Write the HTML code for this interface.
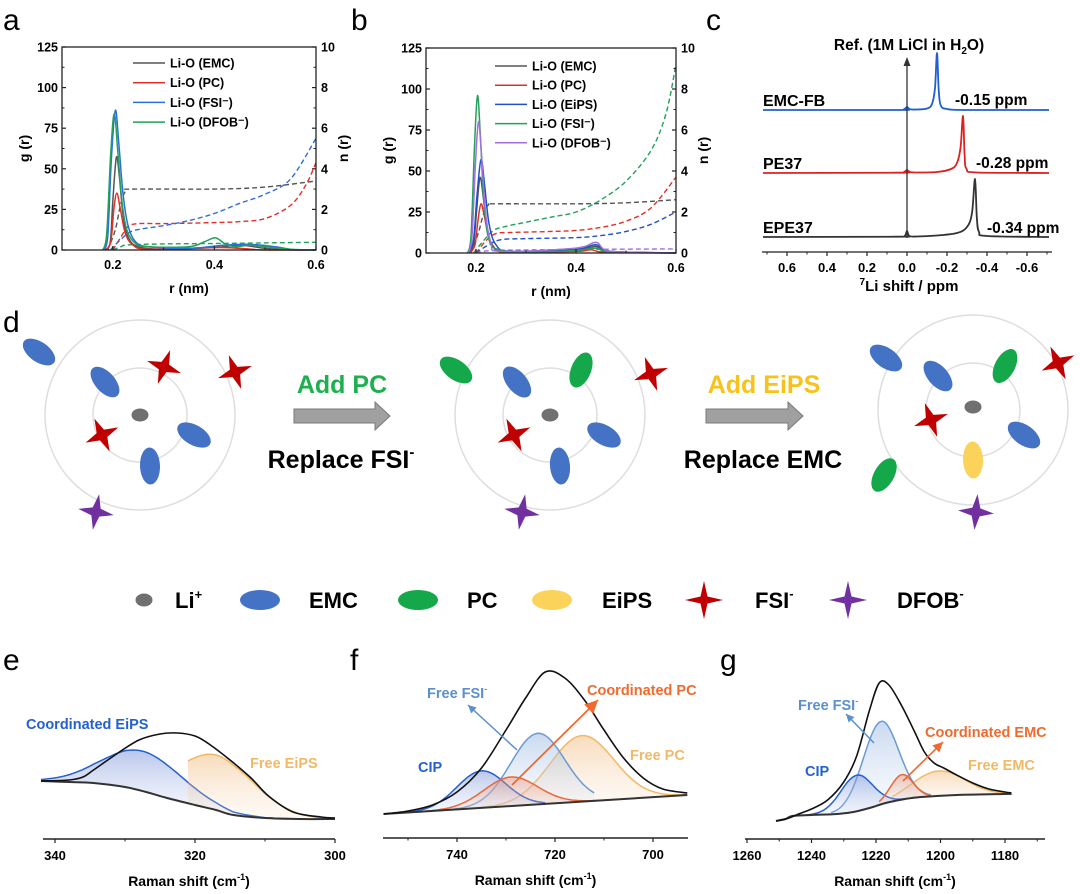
<!DOCTYPE html>
<html><head><meta charset="utf-8">
<style>
html,body{margin:0;padding:0;background:#fff;}
svg{display:block;font-family:"Liberation Sans",Arial,sans-serif;}
</style></head>
<body>
<svg id="fig" width="1080" height="894" viewBox="0 0 1080 894" xmlns="http://www.w3.org/2000/svg">
<defs>
<linearGradient id="gBlue" x1="0" y1="0" x2="0" y2="1"><stop offset="0" stop-color="#7f98dc" stop-opacity="0.55"/><stop offset="1" stop-color="#c9d4f2" stop-opacity="0.15"/></linearGradient>
<linearGradient id="gLBlue" x1="0" y1="0" x2="0" y2="1"><stop offset="0" stop-color="#9dbbe3" stop-opacity="0.55"/><stop offset="1" stop-color="#d6e3f4" stop-opacity="0.15"/></linearGradient>
<linearGradient id="gOrange" x1="0" y1="0" x2="0" y2="1"><stop offset="0" stop-color="#f0b06a" stop-opacity="0.45"/><stop offset="1" stop-color="#f7dcc0" stop-opacity="0.15"/></linearGradient>
<linearGradient id="gRed" x1="0" y1="0" x2="0" y2="1"><stop offset="0" stop-color="#eb8a66" stop-opacity="0.45"/><stop offset="1" stop-color="#f7d2c4" stop-opacity="0.15"/></linearGradient>
</defs>

<text x="3" y="30" font-size="30">a</text>
<text x="351" y="30" font-size="30">b</text>
<text x="706" y="30" font-size="30">c</text>
<text x="3" y="332" font-size="30">d</text>
<text x="3" y="670" font-size="30">e</text>
<text x="350" y="670" font-size="30">f</text>
<text x="720" y="670" font-size="30">g</text>

<g id="pa"></g>
<g id="pb"></g>
<g id="pc"></g>
<g id="pd"></g>
<g id="pe"></g>
<g id="pf"></g>
<g id="pg"></g>
</svg>

<script>
// ---------- Panel a data ----------
const aLegend = ["Li-O (EMC)", "Li-O (PC)", "Li-O (FSI⁻)", "Li-O (DFOB⁻)"];
const aG_EMC = [[0.185,0],[0.195,5],[0.2,30],[0.207,57],[0.213,45],[0.22,22],[0.23,8],[0.25,2],[0.3,0.5],[0.4,1.5],[0.45,3],[0.5,1],[0.55,0],[0.6,0]];
const aG_PC = [[0.185,0],[0.196,5],[0.202,25],[0.208,35],[0.215,25],[0.225,10],[0.24,3],[0.27,0.5],[0.4,1.5],[0.45,1],[0.5,0],[0.6,0]];
const aG_FSI = [[0.182,0],[0.19,8],[0.197,55],[0.205,86],[0.212,65],[0.22,35],[0.23,15],[0.245,5],[0.27,2],[0.35,1],[0.42,3],[0.47,3.5],[0.52,2],[0.56,0],[0.6,0]];
const aG_DFOB = [[0.18,0],[0.188,10],[0.196,60],[0.203,84],[0.21,60],[0.218,30],[0.228,12],[0.245,4],[0.27,2],[0.35,2],[0.38,5],[0.402,7.5],[0.42,4],[0.44,2],[0.47,3],[0.5,2],[0.55,0.5],[0.6,0]];
const aN_EMC = [[0.19,0],[0.205,1],[0.215,2.2],[0.225,2.9],[0.24,3.0],[0.4,3.0],[0.5,3.1],[0.6,3.4]];
const aN_PC = [[0.2,0],[0.215,0.6],[0.23,1.15],[0.25,1.3],[0.3,1.3],[0.4,1.35],[0.45,1.4],[0.5,1.55],[0.55,2.2],[0.58,3.2],[0.6,4.3]];
const aN_FSI = [[0.195,0],[0.215,0.5],[0.235,0.9],[0.26,1.05],[0.3,1.2],[0.35,1.45],[0.4,1.8],[0.45,2.3],[0.5,2.75],[0.55,3.5],[0.6,5.5]];
const aN_DFOB = [[0.2,0],[0.215,0.15],[0.23,0.25],[0.3,0.3],[0.4,0.32],[0.5,0.35],[0.6,0.38]];
// ---------- Panel b data ----------
const bLegend = ["Li-O (EMC)", "Li-O (PC)", "Li-O (EiPS)", "Li-O (FSI⁻)", "Li-O (DFOB⁻)"];
const bG_EMC = [[0.185,0],[0.195,5],[0.201,25],[0.208,46],[0.215,33],[0.223,14],[0.235,4],[0.26,1],[0.4,2],[0.44,4],[0.47,1],[0.6,0]];
const bG_PC = [[0.188,0],[0.198,5],[0.204,20],[0.21,30],[0.217,22],[0.226,9],[0.24,2],[0.27,0.5],[0.4,1],[0.43,2],[0.46,0.5],[0.6,0]];
const bG_EiPS = [[0.185,0],[0.195,8],[0.202,35],[0.21,57],[0.217,42],[0.226,18],[0.24,5],[0.27,1],[0.4,2.5],[0.44,5],[0.47,1],[0.6,0]];
const bG_FSI = [[0.183,0],[0.19,10],[0.197,65],[0.203,96],[0.209,70],[0.216,30],[0.226,8],[0.245,2],[0.3,0.5],[0.4,1.5],[0.44,3],[0.47,0.5],[0.6,0]];
const bG_DFOB = [[0.185,0],[0.192,10],[0.199,55],[0.205,80],[0.211,60],[0.219,25],[0.23,6],[0.25,1],[0.4,3],[0.44,6.5],[0.47,1],[0.6,0]];
const bN_EMC = [[0.19,0],[0.205,1],[0.215,1.9],[0.225,2.35],[0.24,2.4],[0.4,2.4],[0.5,2.45],[0.6,2.6]];
const bN_PC = [[0.2,0],[0.22,0.6],[0.24,0.95],[0.27,1.0],[0.35,1.05],[0.4,1.1],[0.45,1.25],[0.5,1.55],[0.55,2.2],[0.6,3.7]];
const bN_EiPS = [[0.2,0],[0.225,0.4],[0.25,0.65],[0.3,0.7],[0.4,0.75],[0.45,0.85],[0.5,1.05],[0.55,1.4],[0.6,2.0]];
const bN_FSI = [[0.195,0],[0.215,0.6],[0.235,1.1],[0.26,1.3],[0.3,1.5],[0.35,1.75],[0.4,2.0],[0.45,2.6],[0.5,3.5],[0.55,5.0],[0.58,6.8],[0.6,9.2]];
const bN_DFOB = [[0.2,0],[0.23,0.12],[0.3,0.15],[0.45,0.18],[0.6,0.2]];
const gTicks = [0,25,50,75,100,125];
const nTicks = [0,2,4,6,8,10];
const rTicks = [0.2,0.4,0.6];
// ---------- Panel c data ----------
const cNames = ["EMC-FB","PE37","EPE37"];
const cShifts = ["-0.15 ppm","-0.28 ppm","-0.34 ppm"];
const cEMCFB = [[0.72,0],[0.05,0],[0.015,0.8],[0,3],[-0.015,0.8],[-0.05,0.5],[-0.1,1.5],[-0.125,6],[-0.14,22],[-0.15,57],[-0.158,22],[-0.168,5],[-0.2,1],[-0.3,0],[-0.71,0]];
const cPE37 = [[0.72,0],[0.05,0.3],[0.015,1],[0,3],[-0.015,1],[-0.05,0.5],[-0.15,1],[-0.22,4],[-0.25,10],[-0.268,26],[-0.28,57],[-0.288,18],[-0.298,4],[-0.35,0.5],[-0.71,0]];
const cEPE37 = [[0.72,0],[0.05,0.3],[0.012,1],[0,6],[-0.012,1],[-0.05,0.5],[-0.15,1.5],[-0.25,4],[-0.3,10],[-0.325,24],[-0.34,58],[-0.349,20],[-0.36,5],[-0.4,1],[-0.71,0]];
const cTicks = [0.6,0.4,0.2,0.0,-0.2,-0.4,-0.6];
// ---------- Panel e data ----------
const eTotal = [[342,39],[338,40],[336,43],[334.5,50],[331,67],[328,80],[325,86],[322.5,87],[320,84],[318,76],[315,60],[312,42],[309.5,24],[306,8],[302,3],[300,2]];
const eBase = [[342,39],[338,38],[334.5,37],[330,33],[327,28],[324,22],[320,15],[317,10],[314.5,5],[310,2],[305,1],[300,1]];
const ePeakCoord = [327.5, 40, 5.7];
const ePeakFree = [317, 55, 5.5];
const eTicks = [340,320,300];
// ---------- Panel f data ----------
const fTotal = [[755,16],[750,19],[745,25],[740,38],[735,62],[730,100],[726,132],[722,158],[718,152],[714,130],[710,100],[706,72],[702,52],[698,41],[693,37]];
const fBase = [[755,16],[693,35]];
const fPeakCIP = [735, 37, 5];
const fPeakCoordPC = [729, 29, 5.5];
const fPeakFreeFSI = [723.5, 71, 5.5];
const fPeakFreePC = [714.5, 66, 6.5];
const fTicks = [740,720,700];
// ---------- Panel g data ----------
const gTotal = [[1251,1],[1247,4],[1244,8],[1240,13],[1235,22],[1230,40],[1226,66],[1222,112],[1219,139],[1216,137],[1212,116],[1208,90],[1205,70],[1202,59],[1199,54],[1195,47],[1190,39],[1185,33],[1180,30],[1178,29]];
const gBase = [[1251,1],[1248,3],[1246,6],[1240,7],[1232,8],[1227,10],[1222,14],[1217,19],[1211,23],[1206,25],[1195,27],[1180,28],[1178,28]];
const gPeakCIP = [1226, 36, 5];
const gPeakFreeFSI = [1218.5, 83, 5.5];
const gPeakCoordEMC = [1212, 25, 3.5];
const gPeakFreeEMC = [1200.5, 25, 8];
const gxTicks = [1260,1240,1220,1200,1180];

const NS = "http://www.w3.org/2000/svg";
function el(tag, attrs, parent){ const e=document.createElementNS(NS,tag); for(const k in attrs) e.setAttribute(k,attrs[k]); if(parent) parent.appendChild(e); return e; }
function txt(parent, x, y, s, size, anchor, extra){ const t=el('text',Object.assign({x:x,y:y,'font-size':size,'text-anchor':anchor||'start'},extra||{}),parent); t.textContent=s; return t; }
function smooth(P, clampY){
  if(P.length<2) return '';
  let d='M'+P[0][0].toFixed(2)+','+P[0][1].toFixed(2);
  for(let i=0;i<P.length-1;i++){
    const p0=P[i-1]||P[i], p1=P[i], p2=P[i+1], p3=P[i+2]||P[i+1];
    let c1x=p1[0]+(p2[0]-p0[0])/6, c1y=p1[1]+(p2[1]-p0[1])/6;
    let c2x=p2[0]-(p3[0]-p1[0])/6, c2y=p2[1]-(p3[1]-p1[1])/6;
    if(clampY!==undefined){ c1y=Math.min(c1y,clampY); c2y=Math.min(c2y,clampY); }
    d+=' C'+c1x.toFixed(2)+','+c1y.toFixed(2)+' '+c2x.toFixed(2)+','+c2y.toFixed(2)+' '+p2[0].toFixed(2)+','+p2[1].toFixed(2);
  }
  return d;
}
function interp(arr, v){
  const a = arr[0][0] < arr[arr.length-1][0] ? arr : arr.slice().reverse();
  if(v<=a[0][0]) return a[0][1];
  if(v>=a[a.length-1][0]) return a[a.length-1][1];
  for(let i=0;i<a.length-1;i++){ if(v>=a[i][0]&&v<=a[i+1][0]){ const t=(v-a[i][0])/(a[i+1][0]-a[i][0]); return a[i][1]+t*(a[i+1][1]-a[i][1]); } }
  return 0;
}

function rdfPanel(gid, L, R, T, B, x0, x1, gSeries, nSeries, colors, legend, legX, legY0, legDy){
  const g=document.getElementById(gid);
  const xs=r=>L+(r-x0)/(x1-x0)*(R-L);
  const yg=v=>B-v/125*(B-T);
  const yn=v=>B-v/10*(B-T);
  nSeries.forEach((s,i)=>{
    const p=el('path',{d:smooth(s.map(q=>[xs(q[0]),yn(q[1])]),B),fill:'none',stroke:colors[i],'stroke-width':1.4,'stroke-dasharray':'5,3'},g);
    
    
  });
  gSeries.forEach((s,i)=>{
    const p=el('path',{d:smooth(s.map(q=>[xs(q[0]),yg(q[1])]),B),fill:'none',stroke:colors[i],'stroke-width':1.5},g);
    
    
  });
  const fr=el('rect',{x:L,y:T,width:R-L,height:B-T,fill:'none',stroke:'#222','stroke-width':1.3},g);
  
  
  gTicks.forEach(v=>{ el('line',{x1:L,x2:L+4,y1:yg(v),y2:yg(v),stroke:'#222','stroke-width':1.2},g); txt(g,L-4,yg(v)+4.5,String(v),12.5,'end',{'font-weight':'bold'}); });
  for(let v=12.5;v<125;v+=25) el('line',{x1:L,x2:L+2.5,y1:yg(v),y2:yg(v),stroke:'#222'},g);
  nTicks.forEach(v=>{ el('line',{x1:R-4,x2:R,y1:yn(v),y2:yn(v),stroke:'#222','stroke-width':1.2},g); txt(g,R+5,yn(v)+4.5,String(v),12.5,'start',{'font-weight':'bold'}); });
  for(let v=1;v<10;v+=2) el('line',{x1:R-2.5,x2:R,y1:yn(v),y2:yn(v),stroke:'#222'},g);
  rTicks.forEach(v=>{ el('line',{x1:xs(v),x2:xs(v),y1:B,y2:B-4,stroke:'#222','stroke-width':1.2},g); txt(g,xs(v),B+19,v.toFixed(1),12.5,'middle',{'font-weight':'bold'}); });
  [0.1,0.3,0.5].forEach(v=>el('line',{x1:xs(v),x2:xs(v),y1:B,y2:B-2.5,stroke:'#222'},g));
  txt(g,(L+R)/2,B+43,'r (nm)',14,'middle',{'font-weight':'bold'});
  txt(g,0,0,'g (r)',14,'middle',{'font-weight':'bold',transform:`translate(${L-33},${(T+B)/2}) rotate(-90)`});
  txt(g,0,0,'n (r)',14,'middle',{'font-weight':'bold',transform:`translate(${R+32},${(T+B)/2}) rotate(-90)`});
  legend.forEach((s,i)=>{
    const y=legY0+i*legDy;
    el('line',{x1:legX,x2:legX+32,y1:y,y2:y,stroke:colors[i],'stroke-width':1.5},g);
    const t=txt(g,legX+37,y+4.5,s,12.5,'start',{'font-weight':'bold'});
    
    
  });
}
rdfPanel('pa',62,316,47,250,0.1,0.6,[aG_EMC,aG_PC,aG_FSI,aG_DFOB],[aN_EMC,aN_PC,aN_FSI,aN_DFOB],['#555555','#e0302a','#2a6fdb','#23a05a'],aLegend,133,63,19.7);
rdfPanel('pb',426,676,48,253,0.1,0.6,[bG_EMC,bG_PC,bG_EiPS,bG_FSI,bG_DFOB],[bN_EMC,bN_PC,bN_EiPS,bN_FSI,bN_DFOB],['#555555','#e0302a','#1f4fc9','#23a05a','#a36ee0'],bLegend,495,66,19.2);

(function(){
  const g=document.getElementById('pc');
  const xc=v=>907-v*200;
  const bases=[110,173,237];
  const cols=['#1f5fd0','#e02020','#333333'];
  [cEMCFB,cPE37,cEPE37].forEach((s,i)=>{
    const p=el('path',{d:smooth(s.map(q=>[xc(q[0]),bases[i]-q[1]]),bases[i]),fill:'none',stroke:cols[i],'stroke-width':1.8},g);
    
    
    txt(g,763,bases[i]-4,cNames[i],16,'start',{'font-weight':'bold'});
  });
  txt(g,955,105,cShifts[0],15.5,'start',{'font-weight':'bold'});
  txt(g,976,168,cShifts[1],15.5,'start',{'font-weight':'bold'});
  txt(g,987,233,cShifts[2],15.5,'start',{'font-weight':'bold'});
  el('line',{x1:xc(0),x2:xc(0),y1:238,y2:64,stroke:'#333','stroke-width':1.3},g);
  el('path',{d:`M${xc(0)-3.5},66 L${xc(0)},57 L${xc(0)+3.5},66 Z`,fill:'#333'},g);
  const rt=el('text',{x:909,y:50,'font-size':15.5,'text-anchor':'middle','font-weight':'bold'},g);
  rt.innerHTML='Ref. (1M LiCl in H<tspan font-size="10" dy="4">2</tspan><tspan dy="-4">O)</tspan>';
  el('line',{x1:762,x2:1052,y1:252,y2:252,stroke:'#222','stroke-width':1.3},g);
  cTicks.forEach(v=>{ el('line',{x1:xc(v),x2:xc(v),y1:252,y2:256,stroke:'#222','stroke-width':1.2},g); txt(g,xc(v),272,v.toFixed(1),13,'middle',{'font-weight':'bold'}); });
  [0.7,0.5,0.3,0.1,-0.1,-0.3,-0.5,-0.7].forEach(v=>el('line',{x1:xc(v),x2:xc(v),y1:252,y2:254.5,stroke:'#222'},g));
  const xt=el('text',{x:909,y:291,'font-size':15,'text-anchor':'middle','font-weight':'bold'},g);
  xt.innerHTML='<tspan font-size="10" dy="-6">7</tspan><tspan dy="6">Li shift / ppm</tspan>';
})();

(function(){
  const g=document.getElementById('pd');
  function circles(cx,cy){ el('circle',{cx:cx,cy:cy,r:95,fill:'none',stroke:'#dedede','stroke-width':1.5},g); el('circle',{cx:cx,cy:cy,r:47,fill:'none',stroke:'#dedede','stroke-width':1.5},g); }
  function li(cx,cy){ const e=el('ellipse',{cx:cx,cy:cy,rx:8.5,ry:6.5,fill:'#707070'},g);   }
  function mol(cx,cy,rot,col,name){ const e=el('ellipse',{cx:0,cy:0,rx:18.5,ry:10,fill:col,transform:`translate(${cx},${cy}) rotate(${rot})`},g);   }
  function star(cx,cy,rot,col,name,L,S){ L=L||18; S=S||4; const d=`M0,${-L} L${S},${-S} L${L},0 L${S},${S} L0,${L} L${-S},${S} L${-L},0 L${-S},${-S} Z`; const e=el('path',{d:d,fill:col,transform:`translate(${cx},${cy}) rotate(${rot})`},g);   }
  const B='#4472c4',G='#14a84a',Y='#fcd35a',R='#c00000',P='#7030a0';
  circles(140,415); li(140,415);
  mol(39,352,35,B,'emc-molecule'); mol(105,382,48,B,'emc-molecule'); mol(194,435,30,B,'emc-molecule'); mol(150,466,88,B,'emc-molecule');
  star(164,367,20,R,'fsi-anion'); star(235,372,-20,R,'fsi-anion'); star(102,435,-25,R,'fsi-anion'); star(96,512,10,P,'dfob-anion');
  circles(550,415); li(550,415);
  mol(456,370,35,G,'pc-molecule'); mol(517,382,50,B,'emc-molecule'); mol(581,370,-68,G,'pc-molecule'); mol(604,435,30,B,'emc-molecule'); mol(560,466,85,B,'emc-molecule');
  star(514,435,-25,R,'fsi-anion'); star(651,374,-20,R,'fsi-anion'); star(522,512,10,P,'dfob-anion');
  circles(973,410); li(973,407);
  mol(886,358,35,B,'emc-molecule'); mol(938,376,48,B,'emc-molecule'); mol(1005,366,-62,G,'pc-molecule'); mol(1024,435,35,B,'emc-molecule'); mol(973,460,88,Y,'eips-molecule'); mol(884,475,-60,G,'pc-molecule');
  star(1058,363,-25,R,'fsi-anion'); star(931,420,-20,R,'fsi-anion'); star(976,512,5,P,'dfob-anion');
  function arrow(x0,x1,y,name){ const e=el('path',{d:`M${x0},${y-7} L${x1-15},${y-7} L${x1-15},${y-14} L${x1},${y} L${x1-15},${y+14} L${x1-15},${y+7} L${x0},${y+7} Z`,fill:'#a0a0a0',stroke:'#7a7a7a','stroke-width':1},g);   }
  arrow(294,390,416,'arrow-add-pc'); arrow(706,803,416,'arrow-add-eips');
  txt(g,342,393,'Add PC',25,'middle',{'font-weight':'bold',fill:'#1db04e'});
  const r1=el('text',{x:341,y:468,'font-size':25,'text-anchor':'middle','font-weight':'bold'},g);
  r1.innerHTML='Replace FSI<tspan font-size="15" dy="-11">-</tspan>';
  txt(g,764,393,'Add EiPS',25,'middle',{'font-weight':'bold',fill:'#f7c31a'});
  txt(g,763,468,'Replace EMC',25,'middle',{'font-weight':'bold'});
  const ly=600;
  el('ellipse',{cx:144,cy:ly,rx:8.5,ry:6.5,fill:'#707070'},g);
  const t1=el('text',{x:175,y:ly+8,'font-size':22,'font-weight':'bold'},g); t1.innerHTML='Li<tspan font-size="13" dy="-9">+</tspan>';
  el('ellipse',{cx:260,cy:ly,rx:20,ry:10,fill:B},g); txt(g,309,ly+8,'EMC',22,'start',{'font-weight':'bold'});
  el('ellipse',{cx:418,cy:ly,rx:20,ry:10,fill:G},g); txt(g,467,ly+8,'PC',22,'start',{'font-weight':'bold'});
  el('ellipse',{cx:552,cy:ly,rx:20,ry:10,fill:Y},g); txt(g,602,ly+8,'EiPS',22,'start',{'font-weight':'bold'});
  star(704,ly,0,R,'legend-fsi-star',19,3.5);
  const t2=el('text',{x:755,y:ly+8,'font-size':22,'font-weight':'bold'},g); t2.innerHTML='FSI<tspan font-size="13" dy="-10">-</tspan>';
  star(848,ly,0,P,'legend-dfob-star',19,3.5);
  const t3=el('text',{x:897,y:ly+8,'font-size':22,'font-weight':'bold'},g); t3.innerHTML='DFOB<tspan font-size="13" dy="-10">-</tspan>';
})();

function gauss(p,v){ return p[1]*Math.exp(-((v-p[0])*(v-p[0]))/(2*p[2]*p[2])); }
function ramanAxis(g, xs, L, R, ticks, minorStart, minorEnd, minorStep, axisY){
  el('line',{x1:L,x2:R,y1:axisY,y2:axisY,stroke:'#222','stroke-width':1.4},g);
  ticks.forEach(v=>{ el('line',{x1:xs(v),x2:xs(v),y1:axisY,y2:axisY+4,stroke:'#222','stroke-width':1.2},g); txt(g,xs(v),axisY+21,String(v),13,'middle',{'font-weight':'bold'}); });
  for(let v=minorStart; v>=minorEnd; v-=minorStep) el('line',{x1:xs(v),x2:xs(v),y1:axisY,y2:axisY+2.5,stroke:'#222'},g);
  const t=el('text',{x:(L+R)/2,y:axisY+47,'font-size':14,'text-anchor':'middle','font-weight':'bold'},g);
  t.innerHTML='Raman shift (cm<tspan font-size="9" dy="-6">-1</tspan><tspan dy="6">)</tspan>';
}
function compPath(g, xs, ys, peak, base, v0, v1, stroke, fill, name){
  const pts=[], bpts=[];
  const step=(v1-v0)/80;
  for(let i=0;i<=80;i++){ const v=v0+i*step; const b=interp(base,v); pts.push([xs(v),ys(b+gauss(peak,v))]); bpts.push([xs(v),ys(b)]); }
  let d='M'+pts.map(p=>p[0].toFixed(1)+','+p[1].toFixed(1)).join(' L');
  const area=d+' L'+bpts.reverse().map(p=>p[0].toFixed(1)+','+p[1].toFixed(1)).join(' L')+' Z';
  const a=el('path',{d:area,fill:fill,stroke:'none'},g);
  
  
  const l=el('path',{d:d,fill:'none',stroke:stroke,'stroke-width':1.5},g);
  
  
}
function line(g, arr, xs, ys, col, w, name){
  const l=el('path',{d:smooth(arr.map(q=>[xs(q[0]),ys(q[1])])),fill:'none',stroke:col,'stroke-width':w},g);
  
  
}
function arrowLine(g,x0,y0,x1,y1,col,w,hs){
  el('line',{x1:x0,y1:y0,x2:x1,y2:y1,stroke:col,'stroke-width':w},g);
  const a=Math.atan2(y1-y0,x1-x0);
  const p1=[x1-hs*Math.cos(a)+hs*0.5*Math.sin(a), y1-hs*Math.sin(a)-hs*0.5*Math.cos(a)];
  const p2=[x1-hs*Math.cos(a)-hs*0.5*Math.sin(a), y1-hs*Math.sin(a)+hs*0.5*Math.cos(a)];
  el('path',{d:`M${x1},${y1} L${p1[0]},${p1[1]} L${p2[0]},${p2[1]} Z`,fill:col},g);
}
(function(){
  const g=document.getElementById('pe');
  const xs=v=>55+(340-v)*7; const ys=v=>820-v;
  compPath(g,xs,ys,ePeakCoord,eBase,342,306,'#2461cf','url(#gBlue)','coordinated-eips-peak');
  compPath(g,xs,ys,ePeakFree,eBase,321,300,'#f2b866','url(#gOrange)','free-eips-peak');
  line(g,eBase,xs,ys,'#333',2,'e-baseline');
  line(g,eTotal,xs,ys,'#111',1.6,'e-total-fit');
  ramanAxis(g,xs,43,335,eTicks,330,310,20,839);
  txt(g,26,729,'Coordinated EiPS',14.5,'start',{'font-weight':'bold',fill:'#2461cf'});
  txt(g,250,768,'Free EiPS',14.5,'start',{'font-weight':'bold',fill:'#f2b866'});
})();
(function(){
  const g=document.getElementById('pf');
  const xs=v=>457+(740-v)*4.9; const ys=v=>830-v;
  compPath(g,xs,ys,fPeakFreePC,fBase,735,693,'#f2b866','url(#gOrange)','free-pc-peak');
  compPath(g,xs,ys,fPeakFreeFSI,fBase,742,712,'#6a9ad6','url(#gLBlue)','free-fsi-peak');
  compPath(g,xs,ys,fPeakCIP,fBase,755,722,'#2461cf','url(#gBlue)','cip-peak');
  compPath(g,xs,ys,fPeakCoordPC,fBase,750,708,'#e8683a','url(#gRed)','coordinated-pc-peak');
  line(g,fBase,xs,ys,'#333',2,'f-baseline');
  line(g,fTotal,xs,ys,'#111',1.6,'f-total-fit');
  ramanAxis(g,xs,383,688,fTicks,750,700,10,838);
  arrowLine(g,517,750,468,705,'#5b8fd0',1.5,8);
  arrowLine(g,512,785,598,700,'#ef6a2e',1.8,13);
  const t=el('text',{x:427,y:698,'font-size':14.5,'font-weight':'bold',fill:'#5b8fd0'},g);
  t.innerHTML='Free FSI<tspan font-size="9" dy="-6">-</tspan>';
  txt(g,587,695,'Coordinated PC',14.5,'start',{'font-weight':'bold',fill:'#ef6a2e'});
  txt(g,418,772,'CIP',14.5,'start',{'font-weight':'bold',fill:'#2461cf'});
  txt(g,630,760,'Free PC',14.5,'start',{'font-weight':'bold',fill:'#f2b866'});
})();
(function(){
  const g=document.getElementById('pg');
  const xs=v=>747+(1260-v)*3.225; const ys=v=>822-v;
  compPath(g,xs,ys,gPeakFreeEMC,gBase,1215,1178,'#f2b866','url(#gOrange)','free-emc-peak');
  compPath(g,xs,ys,gPeakFreeFSI,gBase,1234,1203,'#6a9ad6','url(#gLBlue)','free-fsi-peak');
  compPath(g,xs,ys,gPeakCIP,gBase,1246,1205,'#2461cf','url(#gBlue)','cip-peak');
  compPath(g,xs,ys,gPeakCoordEMC,gBase,1219,1203,'#e8683a','url(#gRed)','coordinated-emc-peak');
  line(g,gBase,xs,ys,'#333',2,'g-baseline');
  line(g,gTotal,xs,ys,'#111',1.6,'g-total-fit');
  ramanAxis(g,xs,745,1045,gxTicks,1250,1170,20,839);
  arrowLine(g,874,743,846,714,'#5b8fd0',1.5,8);
  arrowLine(g,903,781,943,742,'#ef6a2e',1.6,10);
  const t=el('text',{x:798,y:710,'font-size':14.5,'font-weight':'bold',fill:'#5b8fd0'},g);
  t.innerHTML='Free FSI<tspan font-size="9" dy="-6">-</tspan>';
  txt(g,925,737,'Coordinated EMC',14.5,'start',{'font-weight':'bold',fill:'#ef6a2e'});
  txt(g,805,776,'CIP',14.5,'start',{'font-weight':'bold',fill:'#2461cf'});
  txt(g,968,770,'Free EMC',14.5,'start',{'font-weight':'bold',fill:'#f2b866'});
})();
</script>
</body></html>
